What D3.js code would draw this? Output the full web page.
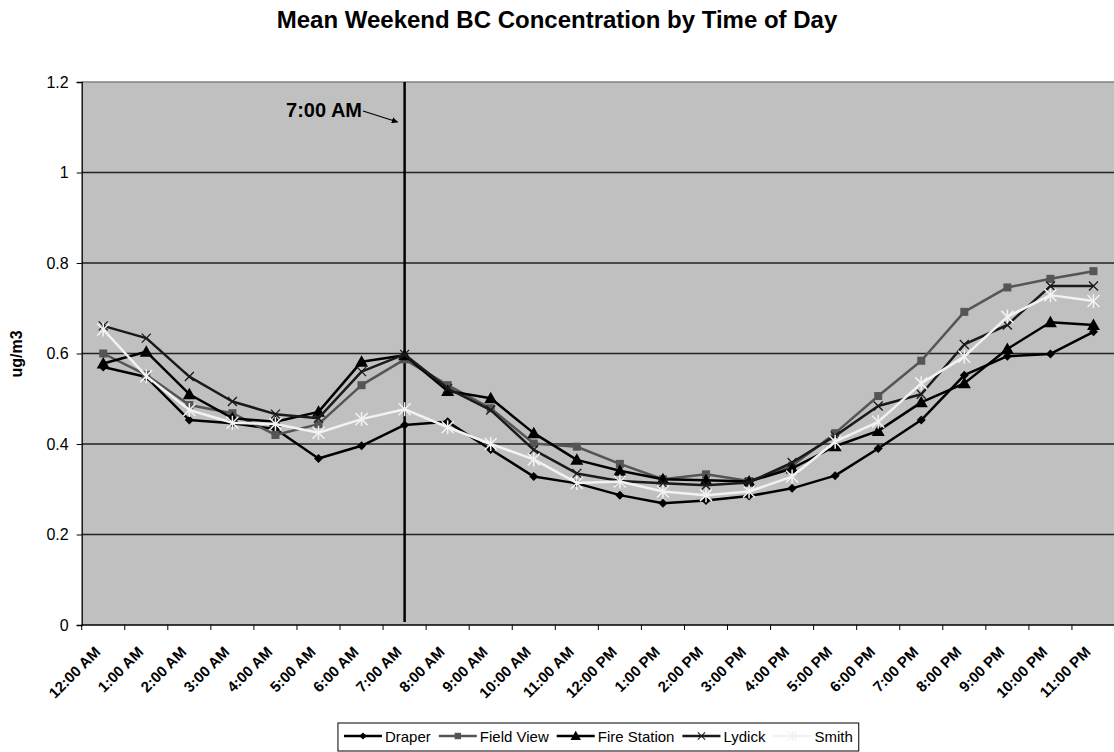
<!DOCTYPE html>
<html>
<head>
<meta charset="utf-8">
<script src="https://cdn.jsdelivr.net/npm/d3@7"></script>
<style>
  body { margin: 0; background: #fff; }
  text { font-family: Arial, "Liberation Sans", sans-serif; }
</style>
</head>
<body>
<script>
const hours = ['12:00 AM', '1:00 AM', '2:00 AM', '3:00 AM', '4:00 AM', '5:00 AM', '6:00 AM', '7:00 AM',
  '8:00 AM', '9:00 AM', '10:00 AM', '11:00 AM', '12:00 PM', '1:00 PM', '2:00 PM', '3:00 PM',
  '4:00 PM', '5:00 PM', '6:00 PM', '7:00 PM', '8:00 PM', '9:00 PM', '10:00 PM', '11:00 PM'];

const draper = [0.570, 0.548, 0.453, 0.446, 0.433, 0.368, 0.396, 0.442, 0.449, 0.388, 0.328, 0.313,
  0.287, 0.269, 0.275, 0.285, 0.302, 0.330, 0.390, 0.453, 0.552, 0.594, 0.599, 0.648];
const fieldView = [0.600, 0.553, 0.486, 0.468, 0.420, 0.444, 0.530, 0.587, 0.530, 0.479, 0.401, 0.394,
  0.356, 0.322, 0.333, 0.318, 0.352, 0.424, 0.506, 0.584, 0.692, 0.746, 0.765, 0.782];
const fireStation = [0.578, 0.604, 0.510, 0.457, 0.449, 0.471, 0.582, 0.596, 0.517, 0.501, 0.424, 0.365,
  0.341, 0.322, 0.320, 0.317, 0.346, 0.395, 0.429, 0.492, 0.534, 0.610, 0.669, 0.663];
const lydick = [0.661, 0.634, 0.549, 0.494, 0.466, 0.457, 0.560, 0.598, 0.523, 0.475, 0.387, 0.335,
  0.318, 0.313, 0.309, 0.315, 0.359, 0.418, 0.484, 0.510, 0.620, 0.663, 0.749, 0.749];
const smith = [0.653, 0.550, 0.475, 0.447, 0.444, 0.425, 0.455, 0.477, 0.437, 0.400, 0.366, 0.314,
  0.317, 0.295, 0.287, 0.295, 0.328, 0.405, 0.449, 0.534, 0.593, 0.681, 0.729, 0.716];

const seriesNames = ['Draper', 'Field View', 'Fire Station', 'Lydick', 'Smith'];
const yTicks = [0, 0.2, 0.4, 0.6, 0.8, 1, 1.2];
const markedHour = '7:00 AM';

const series = [
  { name: seriesNames[0], values: draper, color: '#000', marker: 'diamond' },
  { name: seriesNames[1], values: fieldView, color: '#555', marker: 'square' },
  { name: seriesNames[2], values: fireStation, color: '#000', marker: 'triangle' },
  { name: seriesNames[3], values: lydick, color: '#1a1a1a', marker: 'cross' },
  { name: seriesNames[4], values: smith, color: '#f2f2f2', marker: 'star' }
];

const width = 1114, height = 752;
const plotLeft = 81.7, plotRight = 1115, plotTop = 82, plotBottom = 625;

const svg = d3.select('body').append('svg')
  .attr('width', width)
  .attr('height', height);

const x = d3.scaleBand().domain(hours).range([plotLeft, plotRight]).padding(0);
const y = d3.scaleLinear().domain([0, 1.2]).range([plotBottom, plotTop]);
const cx = h => x(h) + x.bandwidth() / 2;

// title
svg.append('text')
  .attr('x', 557).attr('y', 28)
  .attr('text-anchor', 'middle')
  .style('font-size', '24px').style('font-weight', 'bold')
  .text('Mean Weekend BC Concentration by Time of Day');

// plot background
svg.append('rect')
  .attr('x', plotLeft).attr('y', plotTop)
  .attr('width', plotRight - plotLeft).attr('height', plotBottom - plotTop)
  .attr('fill', '#c0c0c0');

// gridlines
svg.append('g').selectAll('line')
  .data(yTicks.filter(d => d > 0))
  .enter().append('line')
  .attr('x1', plotLeft).attr('x2', plotRight)
  .attr('y1', d => y(d)).attr('y2', d => y(d))
  .attr('stroke', d => d === 1.2 ? '#808080' : '#222')
  .attr('stroke-width', 1.3);

// y axis
const yAxis = svg.append('g')
  .attr('transform', `translate(${plotLeft}, 0)`)
  .call(d3.axisLeft(y).tickValues(yTicks).tickSize(5).tickPadding(8).tickFormat(d3.format('')));
yAxis.selectAll('text').style('font-size', '16px').attr('fill', '#000');
yAxis.select('.domain').attr('stroke', '#000').attr('stroke-width', 1.3);

svg.append('text')
  .attr('transform', 'translate(22, 354) rotate(-90)')
  .attr('text-anchor', 'middle')
  .style('font-size', '16px').style('font-weight', 'bold')
  .text('ug/m3');

// x axis
const xAxisG = svg.append('g').attr('transform', `translate(0, ${plotBottom})`);
xAxisG.append('line')
  .attr('x1', plotLeft).attr('x2', plotRight)
  .attr('stroke', '#000').attr('stroke-width', 1.3);
xAxisG.selectAll('.tick')
  .data(d3.range(hours.length + 1))
  .enter().append('line')
  .attr('x1', i => plotLeft + i * x.bandwidth())
  .attr('x2', i => plotLeft + i * x.bandwidth())
  .attr('y1', 0).attr('y2', 5)
  .attr('stroke', '#000');
xAxisG.selectAll('text')
  .data(hours)
  .enter().append('text')
  .attr('transform', d => `translate(${cx(d) - 2}, 28) rotate(-45)`)
  .attr('text-anchor', 'end')
  .style('font-size', '15px').style('font-weight', 'bold')
  .text(d => d);

// 7:00 AM marker line
svg.append('line')
  .attr('x1', cx(markedHour)).attr('x2', cx(markedHour))
  .attr('y1', plotTop).attr('y2', 622)
  .attr('stroke', '#000').attr('stroke-width', 2.5);

svg.append('defs').append('marker')
  .attr('id', 'arrow')
  .attr('viewBox', '0 0 10 10')
  .attr('refX', 9).attr('refY', 5)
  .attr('markerWidth', 5).attr('markerHeight', 5)
  .attr('orient', 'auto')
  .append('path').attr('d', 'M0,0 L10,5 L0,10 z').attr('fill', '#000');

svg.append('line')
  .attr('x1', 363).attr('y1', 111)
  .attr('x2', cx(markedHour) - 7).attr('y2', 122)
  .attr('stroke', '#000').attr('stroke-width', 1.3)
  .attr('marker-end', 'url(#arrow)');

svg.append('text')
  .attr('x', 362).attr('y', 117)
  .attr('text-anchor', 'end')
  .style('font-size', '20px').style('font-weight', 'bold')
  .text(markedHour);

// marker drawing
function drawMarker(g, type, color) {
  if (type === 'diamond') {
    g.append('path').attr('d', 'M0,-4.5 L4.5,0 L0,4.5 L-4.5,0 Z').attr('fill', color);
  } else if (type === 'square') {
    g.append('rect').attr('x', -4).attr('y', -4).attr('width', 8).attr('height', 8).attr('fill', color);
  } else if (type === 'triangle') {
    g.append('path').attr('d', 'M0,-6.5 L6.5,5 L-6.5,5 Z').attr('fill', color);
  } else if (type === 'cross') {
    g.append('path').attr('d', 'M-4.5,-4.5 L4.5,4.5 M-4.5,4.5 L4.5,-4.5')
      .attr('stroke', color).attr('stroke-width', 1.3);
  } else if (type === 'star') {
    g.append('path').attr('d', 'M-6,-6 L6,6 M-6,6 L6,-6 M0,-7 L0,7')
      .attr('stroke', color).attr('stroke-width', 1.5);
  }
}

const line = d3.line().x(d => cx(d.hour)).y(d => y(d.value));

series.forEach(s => {
  const pts = hours.map((h, i) => ({ hour: h, value: s.values[i] }));
  svg.append('path')
    .datum(pts)
    .attr('d', line)
    .attr('fill', 'none')
    .attr('stroke', s.color)
    .attr('stroke-width', 2.5)
    .attr('stroke-linejoin', 'round');
  svg.append('g').selectAll('g')
    .data(pts)
    .enter().append('g')
    .attr('transform', d => `translate(${cx(d.hour)}, ${y(d.value)})`)
    .each(function () { drawMarker(d3.select(this), s.marker, s.color); });
});

// legend
const legend = svg.append('g');
const legendBox = legend.append('rect')
  .attr('y', 723).attr('height', 28)
  .attr('fill', '#fff').attr('stroke', '#000').attr('stroke-width', 1);
let lx = 0;
const items = legend.append('g');
series.forEach(s => {
  const it = items.append('g').attr('transform', `translate(${lx}, 0)`);
  it.append('line')
    .attr('x1', 0).attr('x2', 38).attr('y1', 736).attr('y2', 736)
    .attr('stroke', s.color).attr('stroke-width', 2.5);
  const m = it.append('g').attr('transform', 'translate(19, 736) scale(0.8)');
  drawMarker(m, s.marker, s.color);
  const t = it.append('text')
    .attr('x', 41).attr('y', 742)
    .style('font-size', '15px')
    .text(s.name);
  lx += 41 + t.node().getComputedTextLength() + 8;
});
const totalW = lx - 8;
const startX = (plotLeft + plotRight) / 2 - totalW / 2;
items.attr('transform', `translate(${startX}, 0)`);
legendBox.attr('x', startX - 6).attr('width', totalW + 12);
</script>
</body>
</html>
